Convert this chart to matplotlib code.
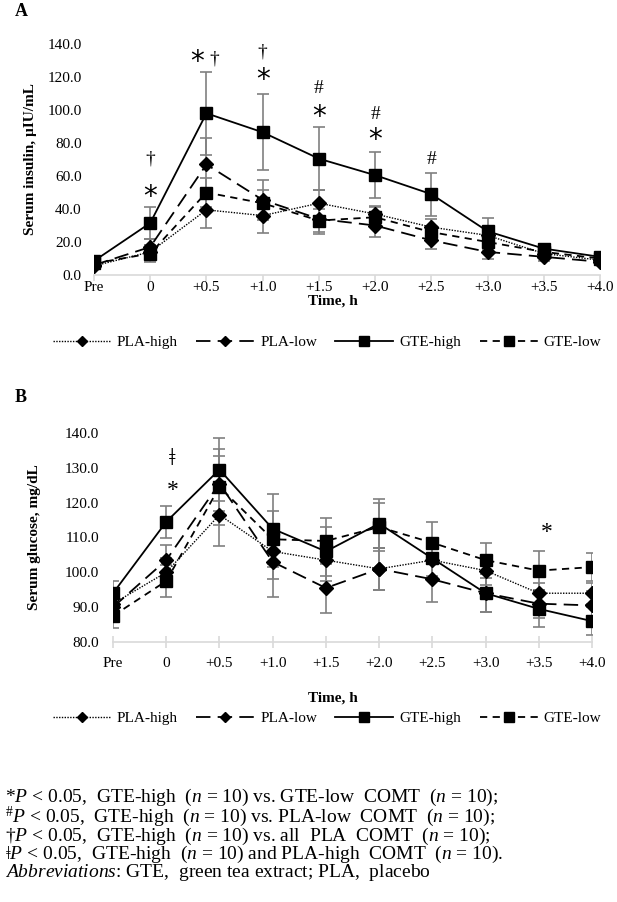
import matplotlib
matplotlib.use("Agg")
import matplotlib.pyplot as plt
import numpy as np

# -------------------------------
# Data
# -------------------------------
times = ["Pre", "0", "+0.5", "+1.0", "+1.5", "+2.0", "+2.5", "+3.0", "+3.5", "+4.0"]
groups = ["PLA-high", "PLA-low", "GTE-high", "GTE-low"]

# Panel A: serum insulin (uIU/mL)
ins_pla_high = [5.5, 14.0, 39.5, 36.0, 43.5, 37.0, 29.0, 24.0, 13.0, 9.0]
ins_pla_low = [6.0, 17.0, 67.0, 45.5, 34.0, 30.0, 21.0, 14.0, 11.0, 8.0]
ins_gte_high = [8.5, 31.5, 98.0, 86.5, 70.5, 60.5, 49.0, 26.5, 16.0, 11.0]
ins_gte_low = [7.0, 13.0, 50.0, 43.5, 33.0, 35.0, 26.0, 20.0, 14.0, 10.0]
ins_err_pla_high = [2.0, 4.0, 11.0, 10.5, 8.0, 5.0, 5.0, 4.0, 2.5, 1.5]
ins_err_pla_low = [2.0, 5.0, 16.0, 12.0, 9.0, 7.0, 5.0, 4.0, 2.5, 1.5]
ins_err_gte_high = [3.0, 9.5, 25.0, 23.0, 19.0, 14.0, 13.0, 8.0, 3.0, 2.0]
ins_err_gte_low = [2.0, 5.0, 9.0, 8.0, 7.0, 6.0, 4.0, 5.0, 2.0, 1.5]

# Panel B: serum glucose (mg/dL)
glu_pla_high = [91.0, 100.0, 116.5, 106.0, 103.5, 101.0, 103.5, 100.5, 94.0, 94.0]
glu_pla_low = [90.0, 103.5, 125.5, 103.0, 95.5, 101.0, 98.0, 94.0, 91.0, 90.5]
glu_gte_high = [94.0, 114.5, 129.5, 112.5, 106.0, 114.0, 104.0, 94.0, 89.5, 86.0]
glu_gte_low = [87.5, 97.5, 124.5, 109.5, 109.0, 113.0, 108.5, 103.5, 100.5, 101.5]
glu_err_pla_high = [3.0, 4.0, 9.0, 8.0, 6.0, 6.0, 5.0, 4.0, 3.0, 3.0]
glu_err_pla_low = [3.0, 4.3, 8.0, 10.0, 7.2, 6.0, 6.5, 5.5, 4.0, 4.0]
glu_err_gte_high = [3.5, 4.5, 9.0, 10.0, 7.0, 7.0, 5.0, 5.5, 5.3, 4.0]
glu_err_gte_low = [3.5, 4.7, 11.0, 8.0, 6.5, 7.0, 6.0, 5.0, 5.5, 4.0]

# Significance marks: (time index, symbol, y value)
ins_marks = [(1, "†", 70), (1, "*", 47), (2, "*", 129), (2, "†", 131),
             (3, "†", 135), (3, "*", 118), (4, "#", 113), (4, "*", 96),
             (5, "#", 97), (5, "*", 82), (6, "#", 70)]
glu_marks = [(1, "ǂ", 132.5), (1, "*", 123.5), (8, "*", 111.5)]

footnotes = [
    r"*$P$ < 0.05,  GTE-high  ($n$ = 10) vs. GTE-low  COMT  ($n$ = 10);",
    r"$^{\#}P$ < 0.05,  GTE-high  ($n$ = 10) vs. PLA-low  COMT  ($n$ = 10);",
    r"†$P$ < 0.05,  GTE-high  ($n$ = 10) vs. all  PLA  COMT  ($n$ = 10);",
    r"ǂ$P$ < 0.05,  GTE-high  ($n$ = 10) and PLA-high  COMT  ($n$ = 10).",
    r"$Abbreviations$: GTE,  green tea extract; PLA,  placebo",
]

# -------------------------------
# Style
# -------------------------------
SERIF = ["Liberation Serif", "DejaVu Serif"]
plt.rcParams["font.family"] = SERIF
plt.rcParams["mathtext.fontset"] = "custom"
plt.rcParams["mathtext.rm"] = "Liberation Serif"
plt.rcParams["mathtext.it"] = "Liberation Serif:italic"
plt.rcParams["mathtext.bf"] = "Liberation Serif:bold"

styles = {
    "PLA-high": dict(ls=(0, (1, 1)), lw=1.0, marker="D", ms=7),
    "PLA-low": dict(ls=(0, (8, 4)), lw=1.3, marker="D", ms=7),
    "GTE-high": dict(ls="-", lw=1.3, marker="s", ms=9),
    "GTE-low": dict(ls=(0, (4, 3)), lw=1.3, marker="s", ms=9),
}
ERR_COLOR = "#808080"
AXIS_COLOR = "#d9d9d9"

fig = plt.figure(figsize=(6.17, 9.02), dpi=100)
ax_a = fig.add_axes([94 / 617, 1 - 275 / 902, 506 / 617, 231 / 902])
ax_b = fig.add_axes([113 / 617, 1 - 642 / 902, 479 / 617, 209 / 902])

x = np.arange(len(times))


def draw_panel(ax, series, errors, ylim, yticks, ylabel, tick_dir, tick_len, tick_pad, ypad):
    for name, y, e in zip(groups, series, errors):
        ax.errorbar(x, y, yerr=e, fmt="none", ecolor=ERR_COLOR, elinewidth=1.2,
                    capsize=4, capthick=1.2, zorder=2)
    for name, y in zip(groups, series):
        st = styles[name]
        ax.plot(x, y, color="black", ls=st["ls"], lw=st["lw"], marker=st["marker"],
                ms=st["ms"], mfc="black", mec="black", label=name, zorder=3)
    ax.set_xlim(0, len(times) - 1)
    ax.set_ylim(*ylim)
    ax.set_xticks(x)
    ax.set_xticklabels(times, fontsize=11)
    ax.set_yticks(yticks)
    ax.set_yticklabels([f"{v:.1f}" for v in yticks], fontsize=11)
    for s in ["left", "right", "top"]:
        ax.spines[s].set_visible(False)
    ax.spines["bottom"].set_color(AXIS_COLOR)
    ax.spines["bottom"].set_linewidth(1.2)
    ax.tick_params(axis="x", color=AXIS_COLOR, width=1.2, direction=tick_dir,
                   length=tick_len, pad=tick_pad)
    ax.tick_params(axis="y", length=0, pad=ypad)
    ax.set_ylabel(ylabel, fontsize=11, fontweight="bold")
    ax.patch.set_visible(False)


draw_panel(ax_a,
           [ins_pla_high, ins_pla_low, ins_gte_high, ins_gte_low],
           [ins_err_pla_high, ins_err_pla_low, ins_err_gte_high, ins_err_gte_low],
           (0, 140), np.arange(0, 141, 20), "Serum insulin, µIU/mL", "out", 4, 0.5, 9)
ax_a.yaxis.set_label_coords(-0.112, 0.5)

draw_panel(ax_b,
           [glu_pla_high, glu_pla_low, glu_gte_high, glu_gte_low],
           [glu_err_pla_high, glu_err_pla_low, glu_err_gte_high, glu_err_gte_low],
           (80, 140), np.arange(80, 141, 10), "Serum glucose, mg/dL", "inout", 8, 7, 10)
ax_b.yaxis.set_label_coords(-0.15, 0.5)

# significance marks
for i, sym, yv in ins_marks:
    if sym == "*":
        dx = -0.17 if i == 2 else 0
        ax_a.text(i + dx, yv, sym, ha="center", va="center", fontsize=20,
                  family="DejaVu Sans")
    else:
        dx = 0.13 if i == 2 else 0
        ax_a.text(i + dx, yv, sym, ha="center", va="center", fontsize=14)
for i, sym, yv in glu_marks:
    dx = 0.12 if i == 1 else 0.15
    ax_b.text(i + dx, yv, sym, ha="center", va="center",
              fontsize=17 if sym == "*" else 19)

# axis titles and legends
for ax, ty, ly in [(ax_a, 301, 342), (ax_b, 698, 718)]:
    fig.text(333 / 617, 1 - ty / 902, "Time, h", ha="center", va="center",
             fontsize=11, fontweight="bold")
    h, l = ax.get_legend_handles_labels()
    fig.legend(h, l, loc="center", bbox_to_anchor=(327 / 617, 1 - ly / 902),
               ncol=4, frameon=False, fontsize=11, handlelength=3.8,
               columnspacing=1.2, handletextpad=0.4, borderaxespad=0,
               markerscale=0.75)

fig.text(15 / 617, 1 - 12 / 902, "A", fontsize=13, fontweight="bold",
         ha="left", va="center")
fig.text(15 / 617, 1 - 398 / 902, "B", fontsize=13, fontweight="bold",
         ha="left", va="center")

fig.text(5 / 617, 1 - 787 / 902, "\n".join(footnotes), fontsize=14,
         ha="left", va="top", linespacing=0.8)

fig.savefig("out.png", dpi=100)
